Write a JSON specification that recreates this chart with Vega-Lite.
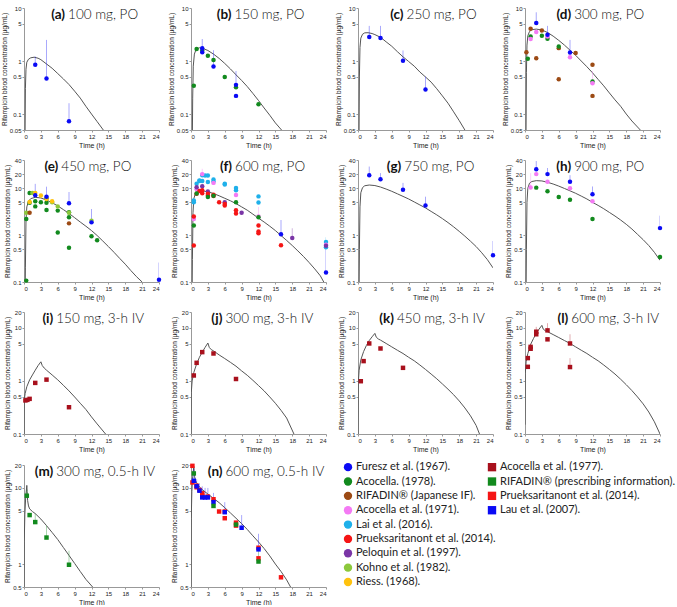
{
"$schema":"https://vega.github.io/schema/vega-lite/v6.json",
"padding":{"left":1,"top":5,"right":0,"bottom":0},
"background":"white",
"config":{"view":{"stroke":null},"axis":{"labelFont":"Liberation Sans","titleFont":"Liberation Sans","labelFontSize":6,"titleFontSize":7,"labelColor":"#222","titleColor":"#222","titleFontWeight":"normal","domainColor":"#999","tickColor":"#999","tickSize":2,"labelPadding":1,"titlePadding":2,"grid":false},"axisY":{"titleFontSize":6.5}},
"datasets":{
"main":[
{"p":"a","k":"ti","t":7.3,"v":10,"L":"(a)","R":"100 mg, PO"},
{"p":"b","k":"ti","t":7.2,"v":10,"L":"(b)","R":"150 mg, PO"},
{"p":"c","k":"ti","t":8.1,"v":10,"L":"(c)","R":"250 mg, PO"},
{"p":"d","k":"ti","t":8.2,"v":10,"L":"(d)","R":"300 mg, PO"},
{"p":"e","k":"ti","t":6.1,"v":40,"L":"(e)","R":"450 mg, PO"},
{"p":"f","k":"ti","t":7.3,"v":40,"L":"(f)","R":"600 mg, PO"},
{"p":"g","k":"ti","t":7.7,"v":40,"L":"(g)","R":"750 mg, PO"},
{"p":"h","k":"ti","t":8.2,"v":40,"L":"(h)","R":"900 mg, PO"},
{"p":"i","k":"ti","t":5.2,"v":20,"L":"(i)","R":"150 mg, 3-h IV"},
{"p":"j","k":"ti","t":5.6,"v":20,"L":"(j)","R":"300 mg, 3-h IV"},
{"p":"k","k":"ti","t":6.4,"v":20,"L":"(k)","R":"450 mg, 3-h IV"},
{"p":"l","k":"ti","t":7.7,"v":20,"L":"(l)","R":"600 mg, 3-h IV"},
{"p":"m","k":"ti","t":5.2,"v":20,"L":"(m)","R":"300 mg, 0.5-h IV"},
{"p":"n","k":"ti","t":5.6,"v":20,"L":"(n)","R":"600 mg, 0.5-h IV"},

{"p":"a","k":"c","t":0.15,"v":0.01},{"p":"a","k":"c","t":0.25,"v":0.3},{"p":"a","k":"c","t":0.35,"v":0.7},{"p":"a","k":"c","t":0.5,"v":0.95},{"p":"a","k":"c","t":0.8,"v":1.08},{"p":"a","k":"c","t":1.2,"v":1.15},{"p":"a","k":"c","t":1.8,"v":1.18},{"p":"a","k":"c","t":2.5,"v":1.13},{"p":"a","k":"c","t":3,"v":1.06},{"p":"a","k":"c","t":4,"v":0.88},{"p":"a","k":"c","t":5,"v":0.73},{"p":"a","k":"c","t":6,"v":0.58},{"p":"a","k":"c","t":7,"v":0.46},{"p":"a","k":"c","t":8,"v":0.36},{"p":"a","k":"c","t":9,"v":0.27},{"p":"a","k":"c","t":10,"v":0.2},{"p":"a","k":"c","t":11,"v":0.14},{"p":"a","k":"c","t":12,"v":0.1},{"p":"a","k":"c","t":13,"v":0.072},{"p":"a","k":"c","t":14.1,"v":0.05},

{"p":"b","k":"c","t":0.2,"v":0.01},{"p":"b","k":"c","t":0.3,"v":0.2},{"p":"b","k":"c","t":0.4,"v":0.8},{"p":"b","k":"c","t":0.6,"v":1.35},{"p":"b","k":"c","t":0.9,"v":1.65},{"p":"b","k":"c","t":1.5,"v":1.78},{"p":"b","k":"c","t":2,"v":1.75},{"p":"b","k":"c","t":3,"v":1.58},{"p":"b","k":"c","t":4,"v":1.35},{"p":"b","k":"c","t":5,"v":1.12},{"p":"b","k":"c","t":6,"v":0.9},{"p":"b","k":"c","t":7,"v":0.71},{"p":"b","k":"c","t":8,"v":0.55},{"p":"b","k":"c","t":9,"v":0.43},{"p":"b","k":"c","t":10,"v":0.33},{"p":"b","k":"c","t":11,"v":0.245},{"p":"b","k":"c","t":12,"v":0.18},{"p":"b","k":"c","t":13,"v":0.13},{"p":"b","k":"c","t":14,"v":0.095},{"p":"b","k":"c","t":15,"v":0.068},{"p":"b","k":"c","t":16.1,"v":0.05},

{"p":"c","k":"c","t":0.15,"v":0.01},{"p":"c","k":"c","t":0.25,"v":0.5},{"p":"c","k":"c","t":0.35,"v":1.8},{"p":"c","k":"c","t":0.5,"v":2.7},{"p":"c","k":"c","t":0.8,"v":3.2},{"p":"c","k":"c","t":1.2,"v":3.4},{"p":"c","k":"c","t":1.8,"v":3.42},{"p":"c","k":"c","t":2.5,"v":3.3},{"p":"c","k":"c","t":3,"v":3.15},{"p":"c","k":"c","t":4,"v":2.8},{"p":"c","k":"c","t":5,"v":2.3},{"p":"c","k":"c","t":6,"v":1.9},{"p":"c","k":"c","t":7,"v":1.5},{"p":"c","k":"c","t":8,"v":1.2},{"p":"c","k":"c","t":9,"v":0.98},{"p":"c","k":"c","t":10,"v":0.8},{"p":"c","k":"c","t":11,"v":0.62},{"p":"c","k":"c","t":12,"v":0.5},{"p":"c","k":"c","t":13,"v":0.4},{"p":"c","k":"c","t":14,"v":0.3},{"p":"c","k":"c","t":15,"v":0.22},{"p":"c","k":"c","t":16,"v":0.16},{"p":"c","k":"c","t":17,"v":0.11},{"p":"c","k":"c","t":18,"v":0.075},{"p":"c","k":"c","t":19,"v":0.05},

{"p":"d","k":"c","t":0.15,"v":0.01},{"p":"d","k":"c","t":0.25,"v":0.6},{"p":"d","k":"c","t":0.35,"v":2.0},{"p":"d","k":"c","t":0.5,"v":3.0},{"p":"d","k":"c","t":0.8,"v":3.6},{"p":"d","k":"c","t":1.2,"v":3.9},{"p":"d","k":"c","t":2,"v":4.0},{"p":"d","k":"c","t":3,"v":3.85},{"p":"d","k":"c","t":4,"v":3.45},{"p":"d","k":"c","t":5,"v":2.95},{"p":"d","k":"c","t":6,"v":2.45},{"p":"d","k":"c","t":7,"v":2.0},{"p":"d","k":"c","t":8,"v":1.6},{"p":"d","k":"c","t":9,"v":1.28},{"p":"d","k":"c","t":10,"v":1.0},{"p":"d","k":"c","t":11,"v":0.78},{"p":"d","k":"c","t":12,"v":0.6},{"p":"d","k":"c","t":13,"v":0.45},{"p":"d","k":"c","t":14,"v":0.34},{"p":"d","k":"c","t":15,"v":0.25},{"p":"d","k":"c","t":16,"v":0.185},{"p":"d","k":"c","t":17,"v":0.14},{"p":"d","k":"c","t":18,"v":0.1},{"p":"d","k":"c","t":19,"v":0.074},{"p":"d","k":"c","t":20.5,"v":0.05},

{"p":"e","k":"c","t":0.15,"v":0.01},{"p":"e","k":"c","t":0.25,"v":0.2},{"p":"e","k":"c","t":0.35,"v":2.0},{"p":"e","k":"c","t":0.5,"v":4.0},{"p":"e","k":"c","t":0.8,"v":5.3},{"p":"e","k":"c","t":1.2,"v":6.0},{"p":"e","k":"c","t":2,"v":6.4},{"p":"e","k":"c","t":3,"v":6.2},{"p":"e","k":"c","t":4,"v":5.6},{"p":"e","k":"c","t":5,"v":4.9},{"p":"e","k":"c","t":6,"v":4.2},{"p":"e","k":"c","t":7,"v":3.5},{"p":"e","k":"c","t":8,"v":2.9},{"p":"e","k":"c","t":9,"v":2.35},{"p":"e","k":"c","t":10,"v":1.9},{"p":"e","k":"c","t":11,"v":1.55},{"p":"e","k":"c","t":12,"v":1.25},{"p":"e","k":"c","t":13,"v":0.98},{"p":"e","k":"c","t":14,"v":0.75},{"p":"e","k":"c","t":15,"v":0.57},{"p":"e","k":"c","t":16,"v":0.43},{"p":"e","k":"c","t":17,"v":0.32},{"p":"e","k":"c","t":18,"v":0.24},{"p":"e","k":"c","t":19,"v":0.175},{"p":"e","k":"c","t":20,"v":0.13},{"p":"e","k":"c","t":21,"v":0.1},

{"p":"f","k":"c","t":0.15,"v":0.01},{"p":"f","k":"c","t":0.25,"v":0.3},{"p":"f","k":"c","t":0.35,"v":3.0},{"p":"f","k":"c","t":0.5,"v":6.0},{"p":"f","k":"c","t":0.8,"v":7.8},{"p":"f","k":"c","t":1.2,"v":8.5},{"p":"f","k":"c","t":2,"v":8.8},{"p":"f","k":"c","t":3,"v":8.4},{"p":"f","k":"c","t":4,"v":7.7},{"p":"f","k":"c","t":5,"v":6.9},{"p":"f","k":"c","t":6,"v":6.1},{"p":"f","k":"c","t":7,"v":5.4},{"p":"f","k":"c","t":8,"v":4.7},{"p":"f","k":"c","t":9,"v":4.0},{"p":"f","k":"c","t":10,"v":3.4},{"p":"f","k":"c","t":11,"v":2.8},{"p":"f","k":"c","t":12,"v":2.3},{"p":"f","k":"c","t":13,"v":1.9},{"p":"f","k":"c","t":14,"v":1.55},{"p":"f","k":"c","t":15,"v":1.25},{"p":"f","k":"c","t":16,"v":0.98},{"p":"f","k":"c","t":17,"v":0.77},{"p":"f","k":"c","t":18,"v":0.6},{"p":"f","k":"c","t":19,"v":0.46},{"p":"f","k":"c","t":20,"v":0.35},{"p":"f","k":"c","t":21,"v":0.26},{"p":"f","k":"c","t":22,"v":0.19},{"p":"f","k":"c","t":23,"v":0.135},{"p":"f","k":"c","t":23.6,"v":0.1},

{"p":"g","k":"c","t":0.15,"v":0.01},{"p":"g","k":"c","t":0.25,"v":0.5},{"p":"g","k":"c","t":0.35,"v":4.0},{"p":"g","k":"c","t":0.5,"v":8.0},{"p":"g","k":"c","t":0.8,"v":10.3},{"p":"g","k":"c","t":1.2,"v":11.3},{"p":"g","k":"c","t":2,"v":11.7},{"p":"g","k":"c","t":3,"v":11.4},{"p":"g","k":"c","t":4,"v":10.6},{"p":"g","k":"c","t":5,"v":9.6},{"p":"g","k":"c","t":6,"v":8.6},{"p":"g","k":"c","t":7,"v":7.6},{"p":"g","k":"c","t":8,"v":6.7},{"p":"g","k":"c","t":9,"v":5.9},{"p":"g","k":"c","t":10,"v":5.1},{"p":"g","k":"c","t":11,"v":4.4},{"p":"g","k":"c","t":12,"v":3.8},{"p":"g","k":"c","t":13,"v":3.2},{"p":"g","k":"c","t":14,"v":2.7},{"p":"g","k":"c","t":15,"v":2.25},{"p":"g","k":"c","t":16,"v":1.85},{"p":"g","k":"c","t":17,"v":1.5},{"p":"g","k":"c","t":18,"v":1.2},{"p":"g","k":"c","t":19,"v":0.95},{"p":"g","k":"c","t":20,"v":0.74},{"p":"g","k":"c","t":21,"v":0.57},{"p":"g","k":"c","t":22,"v":0.42},{"p":"g","k":"c","t":23,"v":0.3},{"p":"g","k":"c","t":24,"v":0.2},

{"p":"h","k":"c","t":0.15,"v":0.01},{"p":"h","k":"c","t":0.25,"v":0.5},{"p":"h","k":"c","t":0.35,"v":5.0},{"p":"h","k":"c","t":0.5,"v":10.0},{"p":"h","k":"c","t":0.8,"v":12.8},{"p":"h","k":"c","t":1.2,"v":13.9},{"p":"h","k":"c","t":2,"v":14.5},{"p":"h","k":"c","t":3,"v":14.3},{"p":"h","k":"c","t":4,"v":13.4},{"p":"h","k":"c","t":5,"v":12.3},{"p":"h","k":"c","t":6,"v":11.1},{"p":"h","k":"c","t":7,"v":9.9},{"p":"h","k":"c","t":8,"v":8.8},{"p":"h","k":"c","t":9,"v":7.8},{"p":"h","k":"c","t":10,"v":6.8},{"p":"h","k":"c","t":11,"v":5.9},{"p":"h","k":"c","t":12,"v":5.0},{"p":"h","k":"c","t":13,"v":4.3},{"p":"h","k":"c","t":14,"v":3.65},{"p":"h","k":"c","t":15,"v":3.05},{"p":"h","k":"c","t":16,"v":2.55},{"p":"h","k":"c","t":17,"v":2.1},{"p":"h","k":"c","t":18,"v":1.7},{"p":"h","k":"c","t":19,"v":1.35},{"p":"h","k":"c","t":20,"v":1.04},{"p":"h","k":"c","t":21,"v":0.8},{"p":"h","k":"c","t":22,"v":0.6},{"p":"h","k":"c","t":23,"v":0.43},{"p":"h","k":"c","t":24,"v":0.29},

{"p":"i","k":"c","t":0,"v":0.05},{"p":"i","k":"c","t":0.05,"v":0.45},{"p":"i","k":"c","t":0.2,"v":0.58},{"p":"i","k":"c","t":0.5,"v":0.78},{"p":"i","k":"c","t":1,"v":1.05},{"p":"i","k":"c","t":1.5,"v":1.3},{"p":"i","k":"c","t":2,"v":1.6},{"p":"i","k":"c","t":2.5,"v":1.95},{"p":"i","k":"c","t":3,"v":2.3},{"p":"i","k":"c","t":3.25,"v":1.95},{"p":"i","k":"c","t":3.6,"v":1.75},{"p":"i","k":"c","t":4,"v":1.6},{"p":"i","k":"c","t":5,"v":1.3},{"p":"i","k":"c","t":6,"v":1.05},{"p":"i","k":"c","t":7,"v":0.83},{"p":"i","k":"c","t":8,"v":0.65},{"p":"i","k":"c","t":9,"v":0.5},{"p":"i","k":"c","t":10,"v":0.38},{"p":"i","k":"c","t":11,"v":0.29},{"p":"i","k":"c","t":12,"v":0.21},{"p":"i","k":"c","t":13,"v":0.155},{"p":"i","k":"c","t":14.5,"v":0.1},

{"p":"j","k":"c","t":0,"v":0.08},{"p":"j","k":"c","t":0.05,"v":0.6},{"p":"j","k":"c","t":0.2,"v":1.0},{"p":"j","k":"c","t":0.5,"v":1.45},{"p":"j","k":"c","t":1,"v":2.1},{"p":"j","k":"c","t":1.5,"v":2.8},{"p":"j","k":"c","t":2,"v":3.5},{"p":"j","k":"c","t":2.5,"v":4.3},{"p":"j","k":"c","t":3,"v":5.2},{"p":"j","k":"c","t":3.25,"v":4.3},{"p":"j","k":"c","t":3.6,"v":3.9},{"p":"j","k":"c","t":4,"v":3.7},{"p":"j","k":"c","t":5,"v":3.1},{"p":"j","k":"c","t":6,"v":2.65},{"p":"j","k":"c","t":7,"v":2.25},{"p":"j","k":"c","t":8,"v":1.9},{"p":"j","k":"c","t":9,"v":1.55},{"p":"j","k":"c","t":10,"v":1.28},{"p":"j","k":"c","t":11,"v":1.03},{"p":"j","k":"c","t":12,"v":0.82},{"p":"j","k":"c","t":13,"v":0.65},{"p":"j","k":"c","t":14,"v":0.5},{"p":"j","k":"c","t":15,"v":0.38},{"p":"j","k":"c","t":16,"v":0.28},{"p":"j","k":"c","t":17,"v":0.2},{"p":"j","k":"c","t":18.3,"v":0.1},

{"p":"k","k":"c","t":0,"v":0.08},{"p":"k","k":"c","t":0.05,"v":0.9},{"p":"k","k":"c","t":0.2,"v":1.6},{"p":"k","k":"c","t":0.5,"v":2.5},{"p":"k","k":"c","t":1,"v":3.6},{"p":"k","k":"c","t":1.5,"v":4.7},{"p":"k","k":"c","t":2,"v":5.8},{"p":"k","k":"c","t":2.5,"v":6.8},{"p":"k","k":"c","t":3,"v":7.9},{"p":"k","k":"c","t":3.25,"v":6.7},{"p":"k","k":"c","t":3.6,"v":6.2},{"p":"k","k":"c","t":4,"v":5.9},{"p":"k","k":"c","t":5,"v":5.1},{"p":"k","k":"c","t":6,"v":4.4},{"p":"k","k":"c","t":7,"v":3.8},{"p":"k","k":"c","t":8,"v":3.3},{"p":"k","k":"c","t":9,"v":2.8},{"p":"k","k":"c","t":10,"v":2.4},{"p":"k","k":"c","t":11,"v":2.0},{"p":"k","k":"c","t":12,"v":1.65},{"p":"k","k":"c","t":13,"v":1.35},{"p":"k","k":"c","t":14,"v":1.1},{"p":"k","k":"c","t":15,"v":0.88},{"p":"k","k":"c","t":16,"v":0.7},{"p":"k","k":"c","t":17,"v":0.55},{"p":"k","k":"c","t":18,"v":0.42},{"p":"k","k":"c","t":19,"v":0.31},{"p":"k","k":"c","t":20,"v":0.22},{"p":"k","k":"c","t":21,"v":0.145},{"p":"k","k":"c","t":21.6,"v":0.1},

{"p":"l","k":"c","t":0,"v":0.15},{"p":"l","k":"c","t":0.05,"v":1.4},{"p":"l","k":"c","t":0.2,"v":2.3},{"p":"l","k":"c","t":0.5,"v":3.3},{"p":"l","k":"c","t":1,"v":4.9},{"p":"l","k":"c","t":1.5,"v":6.3},{"p":"l","k":"c","t":2,"v":7.9},{"p":"l","k":"c","t":2.5,"v":9.5},{"p":"l","k":"c","t":3,"v":11.2},{"p":"l","k":"c","t":3.25,"v":9.5},{"p":"l","k":"c","t":3.6,"v":8.9},{"p":"l","k":"c","t":4,"v":8.5},{"p":"l","k":"c","t":5,"v":7.5},{"p":"l","k":"c","t":6,"v":6.6},{"p":"l","k":"c","t":7,"v":5.8},{"p":"l","k":"c","t":8,"v":5.1},{"p":"l","k":"c","t":9,"v":4.4},{"p":"l","k":"c","t":10,"v":3.8},{"p":"l","k":"c","t":11,"v":3.3},{"p":"l","k":"c","t":12,"v":2.8},{"p":"l","k":"c","t":13,"v":2.4},{"p":"l","k":"c","t":14,"v":2.0},{"p":"l","k":"c","t":15,"v":1.65},{"p":"l","k":"c","t":16,"v":1.35},{"p":"l","k":"c","t":17,"v":1.08},{"p":"l","k":"c","t":18,"v":0.85},{"p":"l","k":"c","t":19,"v":0.66},{"p":"l","k":"c","t":20,"v":0.5},{"p":"l","k":"c","t":21,"v":0.37},{"p":"l","k":"c","t":22,"v":0.26},{"p":"l","k":"c","t":23,"v":0.17},{"p":"l","k":"c","t":24,"v":0.1},

{"p":"m","k":"c","t":0,"v":0.3},{"p":"m","k":"c","t":0.05,"v":2.0},{"p":"m","k":"c","t":0.15,"v":4.5},{"p":"m","k":"c","t":0.3,"v":7.5},{"p":"m","k":"c","t":0.5,"v":10.8},{"p":"m","k":"c","t":0.55,"v":9.0},{"p":"m","k":"c","t":0.65,"v":6.8},{"p":"m","k":"c","t":0.8,"v":5.8},{"p":"m","k":"c","t":1,"v":5.3},{"p":"m","k":"c","t":1.5,"v":4.9},{"p":"m","k":"c","t":2,"v":4.6},{"p":"m","k":"c","t":3,"v":3.9},{"p":"m","k":"c","t":4,"v":3.2},{"p":"m","k":"c","t":5,"v":2.6},{"p":"m","k":"c","t":6,"v":2.1},{"p":"m","k":"c","t":7,"v":1.65},{"p":"m","k":"c","t":8,"v":1.3},{"p":"m","k":"c","t":9,"v":1.02},{"p":"m","k":"c","t":10,"v":0.8},{"p":"m","k":"c","t":11,"v":0.63},{"p":"m","k":"c","t":12.2,"v":0.5},

{"p":"n","k":"c","t":0,"v":0.4},{"p":"n","k":"c","t":0.05,"v":4.0},{"p":"n","k":"c","t":0.15,"v":9.0},{"p":"n","k":"c","t":0.3,"v":14.0},{"p":"n","k":"c","t":0.5,"v":19.2},{"p":"n","k":"c","t":0.55,"v":16.5},{"p":"n","k":"c","t":0.65,"v":14.0},{"p":"n","k":"c","t":0.8,"v":12.5},{"p":"n","k":"c","t":1,"v":11.7},{"p":"n","k":"c","t":1.5,"v":10.3},{"p":"n","k":"c","t":2,"v":9.5},{"p":"n","k":"c","t":3,"v":8.3},{"p":"n","k":"c","t":4,"v":7.3},{"p":"n","k":"c","t":5,"v":6.4},{"p":"n","k":"c","t":6,"v":5.5},{"p":"n","k":"c","t":7,"v":4.7},{"p":"n","k":"c","t":8,"v":4.0},{"p":"n","k":"c","t":9,"v":3.4},{"p":"n","k":"c","t":10,"v":2.85},{"p":"n","k":"c","t":11,"v":2.35},{"p":"n","k":"c","t":12,"v":1.95},{"p":"n","k":"c","t":13,"v":1.6},{"p":"n","k":"c","t":14,"v":1.28},{"p":"n","k":"c","t":15,"v":1.0},{"p":"n","k":"c","t":16,"v":0.8},{"p":"n","k":"c","t":17,"v":0.62},{"p":"n","k":"c","t":17.7,"v":0.5},

{"p":"a","k":"pt","s":"F67","t":2,"v":0.85,"h":1.22},{"p":"a","k":"pt","s":"F67","t":4,"v":0.47,"h":2.5},{"p":"a","k":"pt","s":"F67","t":8,"v":0.073,"h":0.16},

{"p":"b","k":"pt","s":"A78","t":0.5,"v":0.34},{"p":"b","k":"pt","s":"A78","t":1,"v":1.68},{"p":"b","k":"pt","s":"A78","t":2,"v":1.58},{"p":"b","k":"pt","s":"A78","t":3,"v":1.26},{"p":"b","k":"pt","s":"A78","t":4,"v":1.05},{"p":"b","k":"pt","s":"A78","t":6,"v":0.5},{"p":"b","k":"pt","s":"A78","t":8,"v":0.32},{"p":"b","k":"pt","s":"A78","t":12,"v":0.153},
{"p":"b","k":"pt","s":"F67","t":2,"v":1.75,"h":2.6},{"p":"b","k":"pt","s":"F67","t":2,"v":1.47},{"p":"b","k":"pt","s":"F67","t":4,"v":0.79,"h":1.6},{"p":"b","k":"pt","s":"F67","t":8,"v":0.355,"h":0.65},{"p":"b","k":"pt","s":"F67","t":8,"v":0.22},

{"p":"c","k":"pt","s":"F67","t":2,"v":2.83,"h":4.6},{"p":"c","k":"pt","s":"F67","t":4,"v":2.71,"h":4.6},{"p":"c","k":"pt","s":"F67","t":8,"v":1.01,"h":1.58},{"p":"c","k":"pt","s":"F67","t":12,"v":0.29,"h":0.51},

{"p":"d","k":"pt","s":"RJ","t":0.25,"v":1.47},{"p":"d","k":"pt","s":"RJ","t":1,"v":4.07},{"p":"d","k":"pt","s":"RJ","t":2,"v":1.13},{"p":"d","k":"pt","s":"RJ","t":3,"v":3.78},{"p":"d","k":"pt","s":"RJ","t":6,"v":0.454},{"p":"d","k":"pt","s":"RJ","t":6,"v":1.75},{"p":"d","k":"pt","s":"RJ","t":9,"v":1.41},{"p":"d","k":"pt","s":"RJ","t":12,"v":0.85},{"p":"d","k":"pt","s":"RJ","t":12,"v":0.22},
{"p":"d","k":"pt","s":"A78","t":0.5,"v":1.1},{"p":"d","k":"pt","s":"A78","t":1,"v":2.9},{"p":"d","k":"pt","s":"A78","t":3,"v":3.0},{"p":"d","k":"pt","s":"A78","t":4,"v":2.63},{"p":"d","k":"pt","s":"A78","t":6,"v":1.88},{"p":"d","k":"pt","s":"A78","t":12,"v":0.41},
{"p":"d","k":"pt","s":"A71","t":1,"v":2.6,"h":3.0},{"p":"d","k":"pt","s":"A71","t":2,"v":3.52},{"p":"d","k":"pt","s":"A71","t":4,"v":2.91},{"p":"d","k":"pt","s":"A71","t":8,"v":1.18,"h":1.4},{"p":"d","k":"pt","s":"A71","t":12,"v":0.38,"h":0.65},
{"p":"d","k":"pt","s":"F67","t":2,"v":5.2,"h":8.3},{"p":"d","k":"pt","s":"F67","t":4,"v":3.13,"h":4.6},{"p":"d","k":"pt","s":"F67","t":8,"v":1.45,"h":2.5},

{"p":"e","k":"pt","s":"A78","t":0.4,"v":0.107},{"p":"e","k":"pt","s":"A78","t":0.4,"v":2.2},{"p":"e","k":"pt","s":"A78","t":1,"v":4.9},{"p":"e","k":"pt","s":"A78","t":1,"v":7.9},{"p":"e","k":"pt","s":"A78","t":2,"v":4.1},{"p":"e","k":"pt","s":"A78","t":2,"v":5.3},{"p":"e","k":"pt","s":"A78","t":3,"v":5.05},{"p":"e","k":"pt","s":"A78","t":4,"v":3.45},{"p":"e","k":"pt","s":"A78","t":4,"v":4.9},{"p":"e","k":"pt","s":"A78","t":4,"v":6.1},{"p":"e","k":"pt","s":"A78","t":6,"v":3.33},{"p":"e","k":"pt","s":"A78","t":6,"v":1.14},{"p":"e","k":"pt","s":"A78","t":8,"v":3.06},{"p":"e","k":"pt","s":"A78","t":8,"v":2.4},{"p":"e","k":"pt","s":"A78","t":8,"v":0.54},{"p":"e","k":"pt","s":"A78","t":12,"v":0.95},{"p":"e","k":"pt","s":"A78","t":13,"v":0.78},
{"p":"e","k":"pt","s":"K82","t":0.4,"v":3.0},{"p":"e","k":"pt","s":"K82","t":1.5,"v":7.9},{"p":"e","k":"pt","s":"K82","t":5,"v":5.0},{"p":"e","k":"pt","s":"K82","t":6,"v":4.1},{"p":"e","k":"pt","s":"K82","t":8,"v":3.0},{"p":"e","k":"pt","s":"K82","t":12,"v":2.03},
{"p":"e","k":"pt","s":"R68","t":1,"v":5.1},{"p":"e","k":"pt","s":"R68","t":2,"v":7.9},{"p":"e","k":"pt","s":"R68","t":3,"v":7.0},{"p":"e","k":"pt","s":"R68","t":4,"v":5.9},{"p":"e","k":"pt","s":"R68","t":5,"v":5.3},
{"p":"e","k":"pt","s":"RJ","t":1,"v":3.0},{"p":"e","k":"pt","s":"RJ","t":8,"v":1.78},
{"p":"e","k":"pt","s":"F67","t":2,"v":7.1,"h":12.4},{"p":"e","k":"pt","s":"F67","t":4,"v":6.6,"h":10.8},{"p":"e","k":"pt","s":"F67","t":8,"v":4.8,"h":8.3},{"p":"e","k":"pt","s":"F67","t":12,"v":1.87,"h":3.6},{"p":"e","k":"pt","s":"F67","t":24,"v":0.112,"h":0.26},

{"p":"f","k":"pt","s":"L16","t":0.5,"v":5.0},{"p":"f","k":"pt","s":"L16","t":0.5,"v":5.5},{"p":"f","k":"pt","s":"L16","t":1,"v":12.5},{"p":"f","k":"pt","s":"L16","t":1.5,"v":14.7},{"p":"f","k":"pt","s":"L16","t":1.5,"v":14.3},{"p":"f","k":"pt","s":"L16","t":2,"v":14.3},{"p":"f","k":"pt","s":"L16","t":2,"v":19},{"p":"f","k":"pt","s":"L16","t":2.5,"v":18.6},{"p":"f","k":"pt","s":"L16","t":3,"v":18.6},{"p":"f","k":"pt","s":"L16","t":3,"v":13.6},{"p":"f","k":"pt","s":"L16","t":4,"v":15.3},{"p":"f","k":"pt","s":"L16","t":4,"v":13.9},{"p":"f","k":"pt","s":"L16","t":6,"v":12.5},{"p":"f","k":"pt","s":"L16","t":6,"v":12},{"p":"f","k":"pt","s":"L16","t":8,"v":10.1},{"p":"f","k":"pt","s":"L16","t":8,"v":9.0},{"p":"f","k":"pt","s":"L16","t":12,"v":6.7},{"p":"f","k":"pt","s":"L16","t":12,"v":4.95},{"p":"f","k":"pt","s":"L16","t":24,"v":0.71,"h":0.9},{"p":"f","k":"pt","s":"L16","t":24,"v":0.55},
{"p":"f","k":"pt","s":"A71","t":0.5,"v":2.2},{"p":"f","k":"pt","s":"A71","t":1,"v":9.5},{"p":"f","k":"pt","s":"A71","t":2,"v":20,"h":26},{"p":"f","k":"pt","s":"A71","t":4,"v":13},{"p":"f","k":"pt","s":"A71","t":8,"v":7.2},{"p":"f","k":"pt","s":"A71","t":12,"v":2.5,"h":4.0},{"p":"f","k":"pt","s":"A71","t":24,"v":0.62},
{"p":"f","k":"pt","s":"P97","t":1,"v":10.5},{"p":"f","k":"pt","s":"P97","t":2,"v":11.0},{"p":"f","k":"pt","s":"P97","t":3,"v":8.5},{"p":"f","k":"pt","s":"P97","t":6,"v":5.0},{"p":"f","k":"pt","s":"P97","t":9,"v":3.0},{"p":"f","k":"pt","s":"P97","t":18,"v":0.87,"h":1.4},{"p":"f","k":"pt","s":"P97","t":24,"v":0.59},
{"p":"f","k":"pt","s":"P14c","t":0.5,"v":0.6},{"p":"f","k":"pt","s":"P14c","t":0.5,"v":2.5},{"p":"f","k":"pt","s":"P14c","t":1,"v":7.6},{"p":"f","k":"pt","s":"P14c","t":1.5,"v":8.7},{"p":"f","k":"pt","s":"P14c","t":2,"v":7.8},{"p":"f","k":"pt","s":"P14c","t":2,"v":9.1},{"p":"f","k":"pt","s":"P14c","t":3,"v":7.6},{"p":"f","k":"pt","s":"P14c","t":3,"v":7.0},{"p":"f","k":"pt","s":"P14c","t":4,"v":7.3},{"p":"f","k":"pt","s":"P14c","t":4,"v":6.8},{"p":"f","k":"pt","s":"P14c","t":5,"v":5.0},{"p":"f","k":"pt","s":"P14c","t":6,"v":4.6},{"p":"f","k":"pt","s":"P14c","t":6,"v":4.3},{"p":"f","k":"pt","s":"P14c","t":8,"v":3.4},{"p":"f","k":"pt","s":"P14c","t":8,"v":2.9},{"p":"f","k":"pt","s":"P14c","t":12,"v":1.6},{"p":"f","k":"pt","s":"P14c","t":12,"v":1.2},{"p":"f","k":"pt","s":"P14c","t":12,"v":1.1},{"p":"f","k":"pt","s":"P14c","t":16,"v":0.61},
{"p":"f","k":"pt","s":"A78","t":0.5,"v":1.6},{"p":"f","k":"pt","s":"A78","t":1,"v":7.7},{"p":"f","k":"pt","s":"A78","t":3,"v":6.5},{"p":"f","k":"pt","s":"A78","t":4,"v":6.9},{"p":"f","k":"pt","s":"A78","t":8,"v":5.0},{"p":"f","k":"pt","s":"A78","t":12,"v":2.4},
{"p":"f","k":"pt","s":"F67","t":16,"v":1.04,"h":2.1},{"p":"f","k":"pt","s":"F67","t":24,"v":0.16,"h":0.65},

{"p":"g","k":"pt","s":"F67","t":2,"v":19,"h":29},{"p":"g","k":"pt","s":"F67","t":4,"v":15.5,"h":21},{"p":"g","k":"pt","s":"F67","t":8,"v":9.3,"h":13},{"p":"g","k":"pt","s":"F67","t":12,"v":4.3,"h":6.6},{"p":"g","k":"pt","s":"F67","t":24,"v":0.37,"h":0.75},

{"p":"h","k":"pt","s":"F67","t":2,"v":25.4,"h":38},{"p":"h","k":"pt","s":"F67","t":4,"v":20,"h":27},{"p":"h","k":"pt","s":"F67","t":8,"v":13.7,"h":19},{"p":"h","k":"pt","s":"F67","t":12,"v":7.4,"h":10.9},{"p":"h","k":"pt","s":"F67","t":24,"v":1.41,"h":2.6},
{"p":"h","k":"pt","s":"A71","t":1,"v":10.4,"h":21},{"p":"h","k":"pt","s":"A71","t":2,"v":20},{"p":"h","k":"pt","s":"A71","t":4,"v":13.7},{"p":"h","k":"pt","s":"A71","t":8,"v":10.0},{"p":"h","k":"pt","s":"A71","t":12,"v":5.3},
{"p":"h","k":"pt","s":"A78","t":2,"v":10.3},{"p":"h","k":"pt","s":"A78","t":4,"v":8.6},{"p":"h","k":"pt","s":"A78","t":6,"v":6.5},{"p":"h","k":"pt","s":"A78","t":8,"v":5.7},{"p":"h","k":"pt","s":"A78","t":12,"v":2.2},{"p":"h","k":"pt","s":"A78","t":24,"v":0.34},

{"p":"i","k":"pt","s":"A77","t":0.25,"v":0.43},{"p":"i","k":"pt","s":"A77","t":0.6,"v":0.44},{"p":"i","k":"pt","s":"A77","t":1,"v":0.46},{"p":"i","k":"pt","s":"A77","t":2,"v":0.92},{"p":"i","k":"pt","s":"A77","t":4,"v":1.06},{"p":"i","k":"pt","s":"A77","t":8,"v":0.32},

{"p":"j","k":"pt","s":"A77","t":0.5,"v":1.27},{"p":"j","k":"pt","s":"A77","t":1,"v":2.2},{"p":"j","k":"pt","s":"A77","t":2,"v":3.5},{"p":"j","k":"pt","s":"A77","t":4,"v":3.3},{"p":"j","k":"pt","s":"A77","t":8,"v":1.09},

{"p":"k","k":"pt","s":"A77","t":0.5,"v":0.99},{"p":"k","k":"pt","s":"A77","t":1,"v":2.37},{"p":"k","k":"pt","s":"A77","t":2,"v":5.1},{"p":"k","k":"pt","s":"A77","t":4,"v":4.1},{"p":"k","k":"pt","s":"A77","t":8,"v":1.77},

{"p":"l","k":"pt","s":"A77","t":0.5,"v":1.85},{"p":"l","k":"pt","s":"A77","t":0.5,"v":2.7},{"p":"l","k":"pt","s":"A77","t":1,"v":4.05,"h":5.0},{"p":"l","k":"pt","s":"A77","t":1,"v":4.4},{"p":"l","k":"pt","s":"A77","t":2,"v":7.6},{"p":"l","k":"pt","s":"A77","t":2,"v":8.5,"h":10.5},{"p":"l","k":"pt","s":"A77","t":4,"v":6.1},{"p":"l","k":"pt","s":"A77","t":4,"v":9.0,"h":12.3},{"p":"l","k":"pt","s":"A77","t":8,"v":5.1,"h":7.6},{"p":"l","k":"pt","s":"A77","t":8,"v":1.83,"h":2.7},

{"p":"m","k":"pt","s":"RP","t":0.5,"v":7.9,"h":9.5},{"p":"m","k":"pt","s":"RP","t":1,"v":4.4},{"p":"m","k":"pt","s":"RP","t":2,"v":3.56,"h":4.6},{"p":"m","k":"pt","s":"RP","t":4,"v":2.23,"h":3.2},{"p":"m","k":"pt","s":"RP","t":8,"v":0.98,"h":1.5},

{"p":"n","k":"pt","s":"P14s","t":0.25,"v":19.5},{"p":"n","k":"pt","s":"P14s","t":0.25,"v":11.8},{"p":"n","k":"pt","s":"P14s","t":1,"v":10.7},{"p":"n","k":"pt","s":"P14s","t":1,"v":10.2},{"p":"n","k":"pt","s":"P14s","t":1.5,"v":9.4},{"p":"n","k":"pt","s":"P14s","t":2,"v":8.5},{"p":"n","k":"pt","s":"P14s","t":2,"v":7.9},{"p":"n","k":"pt","s":"P14s","t":3,"v":7.7},{"p":"n","k":"pt","s":"P14s","t":4,"v":7.1},{"p":"n","k":"pt","s":"P14s","t":5,"v":4.9},{"p":"n","k":"pt","s":"P14s","t":6,"v":4.9},{"p":"n","k":"pt","s":"P14s","t":6,"v":4.0},{"p":"n","k":"pt","s":"P14s","t":8,"v":3.5},{"p":"n","k":"pt","s":"P14s","t":8,"v":3.2},{"p":"n","k":"pt","s":"P14s","t":12,"v":1.64},{"p":"n","k":"pt","s":"P14s","t":12,"v":1.19},{"p":"n","k":"pt","s":"P14s","t":16,"v":0.67},
{"p":"n","k":"pt","s":"L07","t":0.5,"v":12.4,"h":17.8},{"p":"n","k":"pt","s":"L07","t":1,"v":10.5,"h":13},{"p":"n","k":"pt","s":"L07","t":1.5,"v":9.2,"h":11.5},{"p":"n","k":"pt","s":"L07","t":2,"v":7.5,"h":10.5},{"p":"n","k":"pt","s":"L07","t":2.5,"v":7.5,"h":10},{"p":"n","k":"pt","s":"L07","t":3,"v":7.5,"h":10},{"p":"n","k":"pt","s":"L07","t":4,"v":6.5,"h":8.6},{"p":"n","k":"pt","s":"L07","t":6,"v":4.8,"h":6.5},{"p":"n","k":"pt","s":"L07","t":9,"v":3.0,"h":4.4},{"p":"n","k":"pt","s":"L07","t":12,"v":1.56,"h":2.5},
{"p":"n","k":"pt","s":"RP","t":0.5,"v":15.5},{"p":"n","k":"pt","s":"RP","t":4,"v":5.8},{"p":"n","k":"pt","s":"RP","t":8,"v":3.3},{"p":"n","k":"pt","s":"RP","t":12,"v":1.08,"h":1.6}
],
"leg":[
{"s":"F67","lab":"Furesz et al. (1967).","col":0,"row":0},
{"s":"A78","lab":"Acocella. (1978).","col":0,"row":1},
{"s":"RJ","lab":"RIFADIN® (Japanese IF).","col":0,"row":2},
{"s":"A71","lab":"Acocella et al. (1971).","col":0,"row":3},
{"s":"L16","lab":"Lai et al. (2016).","col":0,"row":4},
{"s":"P14c","lab":"Prueksaritanont et al. (2014).","col":0,"row":5},
{"s":"P97","lab":"Peloquin et al. (1997).","col":0,"row":6},
{"s":"K82","lab":"Kohno et al. (1982).","col":0,"row":7},
{"s":"R68","lab":"Riess. (1968).","col":0,"row":8},
{"s":"A77","lab":"Acocella et al. (1977).","col":1,"row":0},
{"s":"RP","lab":"RIFADIN® (prescribing information).","col":1,"row":1},
{"s":"P14s","lab":"Prueksaritanont et al. (2014).","col":1,"row":2},
{"s":"L07","lab":"Lau et al. (2007).","col":1,"row":3}
]
},
"vconcat":[
{"data":{"name":"main"},"transform":[{"filter":{"field":"p","oneOf":["a","b","c","d"]}}],
 "facet":{"column":{"field":"p","type":"nominal","title":null,"header":{"labels":false,"title":null}}},
 "spacing":32,"bounds":"flush","resolve":{"axis":{"x":"independent","y":"independent"}},
 "spec":{"width":135,"height":122,
  "encoding":{"x":{"field":"t","type":"quantitative","scale":{"domain":[0,24],"nice":false},"axis":{"values":[0,3,6,9,12,15,18,21,24],"title":"Time (h)"}},
   "y":{"field":"v","type":"quantitative","scale":{"type":"log","domain":[0.05,10],"nice":false},"axis":{"values":[0.05,0.1,0.5,1,5,10],"format":"~g","title":"Rifampicin blood concentration (µg/mL)"}}},
  "layer":[
   {"transform":[{"filter":"datum.k=='c'"}],"mark":{"type":"line","clip":true,"color":"#555","strokeWidth":1}},
   {"transform":[{"filter":"datum.k=='pt' && isValid(datum.h)"}],"mark":{"type":"rule","clip":true,"strokeWidth":1,"opacity":0.35},"encoding":{"y2":{"field":"h"},"color":{"field":"s","type":"nominal","legend":null,"scale":{"domain":["F67","A78","RJ","A71","L16","P14c","P97","K82","R68","A77","RP","P14s","L07"],"range":["#0a0af5","#128a1e","#9c4a14","#f47af4","#1fb0ea","#f51515","#7a35a6","#8cc83c","#ffc20e","#a8101c","#128a1e","#f51515","#0a0af5"]}}}},
   {"transform":[{"filter":"datum.k=='pt'"}],"mark":{"type":"point","filled":true,"size":20,"opacity":1},"encoding":{"color":{"field":"s","type":"nominal","legend":null},"shape":{"field":"s","type":"nominal","legend":null,"scale":{"domain":["F67","A78","RJ","A71","L16","P14c","P97","K82","R68","A77","RP","P14s","L07"],"range":["circle","circle","circle","circle","circle","circle","circle","circle","circle","square","square","square","square"]}}}},
   {"transform":[{"filter":"datum.k=='ti'"}],"mark":{"type":"text","align":"right","baseline":"middle","dy":7,"font":"Lato","fontSize":13.5,"fontWeight":"bold","color":"#111"},"encoding":{"text":{"field":"L"}}},
   {"transform":[{"filter":"datum.k=='ti'"}],"mark":{"type":"text","align":"left","baseline":"middle","dx":3,"dy":7,"font":"Lato","fontSize":13.5,"fontWeight":300,"color":"#111"},"encoding":{"text":{"field":"R"}}}
  ]}},
{"data":{"name":"main"},"transform":[{"filter":{"field":"p","oneOf":["e","f","g","h"]}}],
 "facet":{"column":{"field":"p","type":"nominal","title":null,"header":{"labels":false,"title":null}}},
 "spacing":32,"bounds":"flush","resolve":{"axis":{"x":"independent","y":"independent"}},
 "spec":{"width":135,"height":122,
  "encoding":{"x":{"field":"t","type":"quantitative","scale":{"domain":[0,24],"nice":false},"axis":{"values":[0,3,6,9,12,15,18,21,24],"title":"Time (h)"}},
   "y":{"field":"v","type":"quantitative","scale":{"type":"log","domain":[0.1,40],"nice":false},"axis":{"values":[0.1,0.5,1,5,10,20,40],"format":"~g","title":"Rifampicin blood concentration (µg/mL)"}}},
  "layer":[
   {"transform":[{"filter":"datum.k=='c'"}],"mark":{"type":"line","clip":true,"color":"#555","strokeWidth":1}},
   {"transform":[{"filter":"datum.k=='pt' && isValid(datum.h)"}],"mark":{"type":"rule","clip":true,"strokeWidth":1,"opacity":0.35},"encoding":{"y2":{"field":"h"},"color":{"field":"s","type":"nominal","legend":null}}},
   {"transform":[{"filter":"datum.k=='pt'"}],"mark":{"type":"point","filled":true,"size":20,"opacity":1},"encoding":{"color":{"field":"s","type":"nominal","legend":null},"shape":{"field":"s","type":"nominal","legend":null}}},
   {"transform":[{"filter":"datum.k=='ti'"}],"mark":{"type":"text","align":"right","baseline":"middle","dy":7,"font":"Lato","fontSize":13.5,"fontWeight":"bold","color":"#111"},"encoding":{"text":{"field":"L"}}},
   {"transform":[{"filter":"datum.k=='ti'"}],"mark":{"type":"text","align":"left","baseline":"middle","dx":3,"dy":7,"font":"Lato","fontSize":13.5,"fontWeight":300,"color":"#111"},"encoding":{"text":{"field":"R"}}}
  ]}},
{"data":{"name":"main"},"transform":[{"filter":{"field":"p","oneOf":["i","j","k","l"]}}],
 "facet":{"column":{"field":"p","type":"nominal","title":null,"header":{"labels":false,"title":null}}},
 "spacing":32,"bounds":"flush","resolve":{"axis":{"x":"independent","y":"independent"}},
 "spec":{"width":135,"height":122,
  "encoding":{"x":{"field":"t","type":"quantitative","scale":{"domain":[0,24],"nice":false},"axis":{"values":[0,3,6,9,12,15,18,21,24],"title":"Time (h)"}},
   "y":{"field":"v","type":"quantitative","scale":{"type":"log","domain":[0.1,20],"nice":false},"axis":{"values":[0.1,0.5,1,5,10,20],"format":"~g","title":"Rifampicin blood concentration (µg/mL)"}}},
  "layer":[
   {"transform":[{"filter":"datum.k=='c'"}],"mark":{"type":"line","clip":true,"color":"#555","strokeWidth":1}},
   {"transform":[{"filter":"datum.k=='pt' && isValid(datum.h)"}],"mark":{"type":"rule","clip":true,"strokeWidth":1,"opacity":0.35},"encoding":{"y2":{"field":"h"},"color":{"field":"s","type":"nominal","legend":null}}},
   {"transform":[{"filter":"datum.k=='pt'"}],"mark":{"type":"point","filled":true,"size":20,"opacity":1},"encoding":{"color":{"field":"s","type":"nominal","legend":null},"shape":{"field":"s","type":"nominal","legend":null}}},
   {"transform":[{"filter":"datum.k=='ti'"}],"mark":{"type":"text","align":"right","baseline":"middle","dy":7,"font":"Lato","fontSize":13.5,"fontWeight":"bold","color":"#111"},"encoding":{"text":{"field":"L"}}},
   {"transform":[{"filter":"datum.k=='ti'"}],"mark":{"type":"text","align":"left","baseline":"middle","dx":3,"dy":7,"font":"Lato","fontSize":13.5,"fontWeight":300,"color":"#111"},"encoding":{"text":{"field":"R"}}}
  ]}},
{"hconcat":[
{"data":{"name":"main"},"transform":[{"filter":{"field":"p","oneOf":["m","n"]}}],
 "facet":{"column":{"field":"p","type":"nominal","title":null,"header":{"labels":false,"title":null}}},
 "spacing":32,"bounds":"flush","resolve":{"axis":{"x":"independent","y":"independent"}},
 "spec":{"width":135,"height":122,
  "encoding":{"x":{"field":"t","type":"quantitative","scale":{"domain":[0,24],"nice":false},"axis":{"values":[0,3,6,9,12,15,18,21,24],"title":"Time (h)"}},
   "y":{"field":"v","type":"quantitative","scale":{"type":"log","domain":[0.5,20],"nice":false},"axis":{"values":[0.5,1,5,10,20],"format":"~g","title":"Rifampicin blood concentration (µg/mL)"}}},
  "layer":[
   {"transform":[{"filter":"datum.k=='c'"}],"mark":{"type":"line","clip":true,"color":"#555","strokeWidth":1}},
   {"transform":[{"filter":"datum.k=='pt' && isValid(datum.h)"}],"mark":{"type":"rule","clip":true,"strokeWidth":1,"opacity":0.35},"encoding":{"y2":{"field":"h"},"color":{"field":"s","type":"nominal","legend":null}}},
   {"transform":[{"filter":"datum.k=='pt'"}],"mark":{"type":"point","filled":true,"size":20,"opacity":1},"encoding":{"color":{"field":"s","type":"nominal","legend":null},"shape":{"field":"s","type":"nominal","legend":null}}},
   {"transform":[{"filter":"datum.k=='ti'"}],"mark":{"type":"text","align":"right","baseline":"middle","dy":7,"font":"Lato","fontSize":13.5,"fontWeight":"bold","color":"#111"},"encoding":{"text":{"field":"L"}}},
   {"transform":[{"filter":"datum.k=='ti'"}],"mark":{"type":"text","align":"left","baseline":"middle","dx":3,"dy":7,"font":"Lato","fontSize":13.5,"fontWeight":300,"color":"#111"},"encoding":{"text":{"field":"R"}}}
  ]}},
{"data":{"name":"leg"},"width":144,"height":117,
 "encoding":{"x":{"field":"col","type":"quantitative","scale":{"domain":[0,1]},"axis":null},"y":{"field":"row","type":"quantitative","scale":{"domain":[-0.15,8],"reverse":true},"axis":null}},
 "layer":[
  {"mark":{"type":"point","filled":true,"size":70,"opacity":1},"encoding":{"color":{"field":"s","type":"nominal","legend":null},"shape":{"field":"s","type":"nominal","legend":null}}},
  {"mark":{"type":"text","align":"left","baseline":"middle","dx":8,"font":"Lato","fontSize":11,"color":"#222"},"encoding":{"text":{"field":"lab"}}}
 ]}
],"spacing":16}
],
"spacing":9
}
